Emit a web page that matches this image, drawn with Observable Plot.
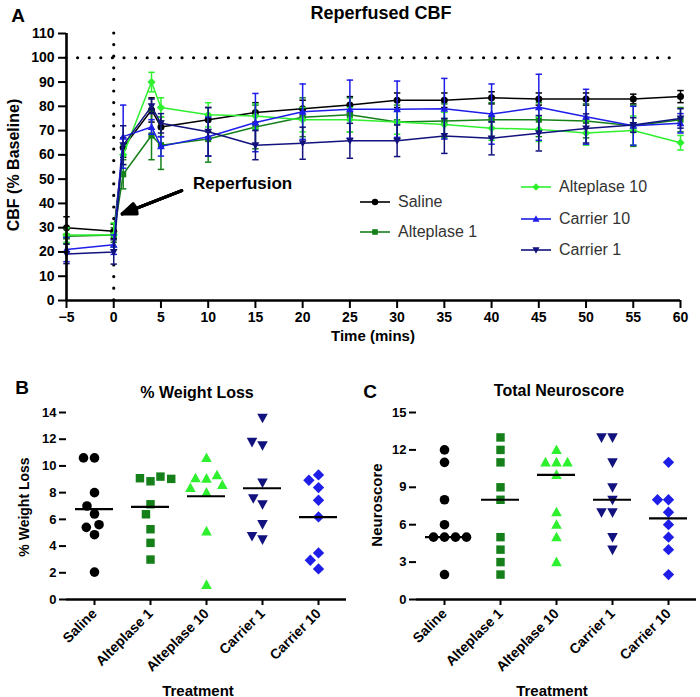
<!DOCTYPE html>
<html><head><meta charset="utf-8">
<script src="https://cdn.jsdelivr.net/npm/d3@7"></script>
<script src="https://cdn.jsdelivr.net/npm/@observablehq/plot@0.6"></script>
<style>
body{margin:0;background:#fff;}
#wrap{position:relative;width:700px;height:697px;font-family:"Liberation Sans",Arial,sans-serif;color:#000;overflow:hidden;background:#fff;}
.abs{position:absolute;white-space:nowrap;line-height:1;}
.b{font-weight:bold;}
.c{transform:translate(-50%,-50%);}
.rot{transform:translate(-50%,-50%) rotate(-90deg);}
.lg{position:absolute;display:flex;align-items:center;font-size:16px;color:#333;transform:translateY(-50%);white-space:nowrap;}
.lg span{margin-left:8px;}
svg.panel{position:absolute;}
</style></head><body><div id="wrap"></div>
<script>
// ---------- Panel A data: Reperfused CBF (% baseline), mean and SEM ----------
const times = [-5, 0, 1, 4, 5, 10, 15, 20, 25, 30, 35, 40, 45, 50, 55, 60];
const seriesNames = ["Saline", "Alteplase 1", "Alteplase 10", "Carrier 10", "Carrier 1"];
const salineCBF      = [30, 28.5, 63, 78.5, 71.5, 74.5, 77.5, 79, 80.5, 82.5, 82.5, 83.5, 83, 83, 83, 84];
const salineSEM      = [4.5, 3, 4, 5, 4, 5, 4, 3.5, 3.5, 3, 3, 2.5, 2.5, 2.5, 2, 2.5];
const alteplase1CBF  = [26.5, 27, 52, 68, 64, 66.5, 71.5, 75.5, 76.5, 73.5, 74, 74.5, 74.5, 74, 72, 74.5];
const alteplase1SEM  = [3, 3, 6, 10, 10, 9.5, 9, 8, 7, 7, 7, 7, 7, 7, 8.5, 5];
const alteplase10CBF = [27, 27, 60, 90, 79.5, 76.5, 76, 74.5, 74.5, 73.5, 72.5, 71, 70.5, 69, 70, 65];
const alteplase10SEM = [3, 5, 4, 4, 4, 5, 5, 5, 5, 5, 5, 5, 5, 5, 6, 3];
const carrier10CBF   = [21, 23, 67.5, 71.5, 63.5, 67.5, 73.3, 77.8, 78.8, 78.8, 79, 76.8, 79.6, 75.7, 72, 73];
const carrier10SEM   = [5, 4, 13, 3, 4, 8, 12, 11.4, 12, 11.6, 12.5, 12.4, 13.6, 11.3, 8, 4];
const carrier1CBF    = [19.2, 20, 64, 80, 73, 69.5, 64, 64.8, 65.8, 65.8, 67.8, 66.8, 68.9, 70.9, 72.3, 75];
const carrier1SEM    = [4, 5, 8, 3, 4, 10, 6, 6.6, 7.2, 6.5, 7.2, 6.8, 7.3, 6, 3, 4];
const aXTicks = [-5, 0, 5, 10, 15, 20, 25, 30, 35, 40, 45, 50, 55, 60];
const aYTicks = [0, 10, 20, 30, 40, 50, 60, 70, 80, 90, 100, 110];
const aXDomain = [-5, 60];
const aYDomain = [0, 110];
const refLineY = [100];
const refLineX = [0];
const annoText = [{t: 8.4, v: 48.3, label: "Reperfusion"}];
const annoArrow = [{x1: 7.2, y1: 45.3, x2: 0.9, y2: 35.7}];

// ---------- Panel B / C data ----------
const treatments = ["Saline", "Alteplase 1", "Alteplase 10", "Carrier 1", "Carrier 10"];
const wlSaline      = [8.0, 10.6, 10.6, 6.4, 7.0, 4.85, 5.4, 5.6, 2.05];
const wlAlteplase1  = [8.85, 9.08, 9.2, 9.03, 7.13, 6.38, 5.26, 4.24, 2.99];
const wlAlteplase10 = [10.6, 9.05, 9.08, 9.3, 8.0, 8.58, 8.35, 5.1, 1.1];
const wlCarrier1    = [13.6, 11.55, 11.8, 8.76, 7.13, 7.58, 4.5, 4.75, 5.64];
const wlCarrier10   = [9.33, 8.93, 8.38, 7.43, 6.18, 3.49, 2.94, 2.29];
const wlMean        = [6.76, 6.93, 7.73, 8.33, 6.16];
const bYTicks = [0, 2, 4, 6, 8, 10, 12, 14];
const nsSaline      = [12, 11, 8, 6, 5, 5, 5, 5, 2];
const nsAlteplase1  = [13, 12, 11, 9, 8, 5, 4, 3, 2];
const nsAlteplase10 = [12, 11, 11, 11, 10, 7, 6, 5, 3];
const nsCarrier1    = [13, 13, 11, 9, 8, 7, 7, 5, 4];
const nsCarrier10   = [11, 8, 8, 7, 6, 5, 4, 2];
const nsMedian      = [5, 8, 10, 8, 6.5];
const cYTicks = [0, 3, 6, 9, 12, 15];

// ---------- styles ----------
const C = {black: "#000000", dkgreen: "#15801a", green: "#2ef02e", blue: "#1e1ee8", navy: "#12127e"};
const rOf = s => Math.sqrt(s / Math.PI);
const sym = {
  circle: {draw(c, s) { const r = rOf(s); c.moveTo(r, 0); c.arc(0, 0, r, 0, 2 * Math.PI); }},
  square: {draw(c, s) { const r = rOf(s) * 0.88; c.rect(-r, -r, 2 * r, 2 * r); }},
  diamond: {draw(c, s) { const r = rOf(s) * 1.18; c.moveTo(0, -r); c.lineTo(r, 0); c.lineTo(0, r); c.lineTo(-r, 0); c.closePath(); }},
  up: {draw(c, s) { const r = rOf(s); c.moveTo(0, -1.15 * r); c.lineTo(1.1 * r, 0.85 * r); c.lineTo(-1.1 * r, 0.85 * r); c.closePath(); }},
  down: {draw(c, s) { const r = rOf(s); c.moveTo(0, 1.15 * r); c.lineTo(1.1 * r, -0.85 * r); c.lineTo(-1.1 * r, -0.85 * r); c.closePath(); }},
  cap: {draw(c, s) { const w = 3.2; c.moveTo(-w, 0); c.lineTo(w, 0); }}
};
const aSeries = [
  {name: "Saline", mean: salineCBF, sem: salineSEM, color: C.black, symbol: sym.circle},
  {name: "Alteplase 1", mean: alteplase1CBF, sem: alteplase1SEM, color: C.dkgreen, symbol: sym.square},
  {name: "Alteplase 10", mean: alteplase10CBF, sem: alteplase10SEM, color: C.green, symbol: sym.diamond},
  {name: "Carrier 10", mean: carrier10CBF, sem: carrier10SEM, color: C.blue, symbol: sym.up},
  {name: "Carrier 1", mean: carrier1CBF, sem: carrier1SEM, color: C.navy, symbol: sym.down}
];
const catColor = [C.black, C.dkgreen, C.green, C.navy, C.blue];
const catSym = [sym.circle, sym.square, sym.up, sym.down, sym.diamond];

const wrap = document.getElementById("wrap");
function addText(txt, x, y, cls, size) {
  const d = document.createElement("div");
  d.className = "abs " + cls;
  d.style.left = x + "px"; d.style.top = y + "px"; d.style.fontSize = size + "px";
  d.textContent = txt;
  wrap.appendChild(d);
}
const baseStyle = {fontFamily: "'Liberation Sans', Arial, sans-serif", fontWeight: "bold", background: "transparent", overflow: "visible", color: "#000"};

// ---------- Panel A ----------
const aMarks = [
  Plot.ruleY(refLineY, {strokeWidth: 3.2, strokeDasharray: "0,11.6", strokeLinecap: "round"}),
  Plot.ruleX(refLineX, {strokeWidth: 3.2, strokeDasharray: "0,11.6", strokeLinecap: "round"})
];
aSeries.forEach(s => {
  const rows = times.map((t, i) => ({t, v: s.mean[i], lo: s.mean[i] - s.sem[i], hi: s.mean[i] + s.sem[i]}));
  aMarks.push(
    Plot.ruleX(rows, {x: "t", y1: "lo", y2: "hi", stroke: s.color, strokeWidth: 1.5}),
    Plot.dot(rows, {x: "t", y: "hi", symbol: sym.cap, fill: "none", stroke: s.color, strokeWidth: 1.5, r: 3}),
    Plot.dot(rows, {x: "t", y: "lo", symbol: sym.cap, fill: "none", stroke: s.color, strokeWidth: 1.5, r: 3}),
    Plot.line(rows, {x: "t", y: "v", stroke: s.color, strokeWidth: 1.5}),
    Plot.dot(rows, {x: "t", y: "v", symbol: s.symbol, fill: s.color, r: 3.5})
  );
});
aMarks.push(
  Plot.ruleX([aXDomain[0]], {strokeWidth: 2.6}),
  Plot.ruleY([aYDomain[0]], {strokeWidth: 2.6}),
  Plot.axisY({ticks: aYTicks, tickSize: 8, tickPadding: 4, strokeWidth: 2, label: null, fontSize: 14}),
  Plot.axisX({ticks: aXTicks, tickSize: 8, tickPadding: 4, strokeWidth: 2, label: null, fontSize: 14}),
  Plot.text(annoText, {x: "t", y: "v", text: "label", textAnchor: "start", fontSize: 17, fontWeight: "bold"}),
  ...[44, 30, 16, 4].map(a => Plot.arrow(annoArrow, {x1: "x1", y1: "y1", x2: "x2", y2: "y2", headAngle: a, headLength: 7.5, strokeWidth: 3}))
);
const plotA = Plot.plot({
  width: 700, height: 345, marginLeft: 66, marginRight: 20, marginTop: 33, marginBottom: 45,
  x: {domain: aXDomain}, y: {domain: aYDomain},
  style: {...baseStyle, fontSize: "14px"},
  marks: aMarks
});
plotA.classList.add("panel");
plotA.style.left = "0px"; plotA.style.top = "0px";
wrap.appendChild(plotA);

// ---------- Panels B and C ----------
function scatter(groups, stat, yMax, yTicks) {
  const marks = [];
  groups.forEach((vals, i) => {
    const rows = vals.map(v => ({cat: treatments[i], v}));
    marks.push(Plot.dot(rows, Plot.dodgeX({anchor: "middle", padding: 1.4, fx: "cat", y: "v", r: 4.8, symbol: catSym[i], fill: catColor[i]})));
  });
  marks.push(
    Plot.tickY(treatments.map((cat, i) => ({cat, v: stat[i]})), {fx: "cat", y: "v", strokeWidth: 2.2, insetLeft: 9, insetRight: 9}),
    Plot.ruleY([0], {strokeWidth: 2.6}),
    Plot.axisY({ticks: yTicks, tickSize: 7, tickPadding: 3, strokeWidth: 2, label: null, line: true, fontSize: 13}),
    Plot.axisFx({anchor: "bottom", tickRotate: -45, tickSize: 6, strokeWidth: 2, label: null, fontSize: 14})
  );
  return Plot.plot({
    width: 350, height: 337, marginLeft: 64, marginRight: 3, marginTop: 52, marginBottom: 98,
    fx: {domain: treatments, padding: 0}, y: {domain: [0, yMax]},
    style: {...baseStyle, fontSize: "13px"},
    marks
  });
}
const plotB = scatter([wlSaline, wlAlteplase1, wlAlteplase10, wlCarrier1, wlCarrier10], wlMean, 14, bYTicks);
plotB.classList.add("panel"); plotB.style.left = "0px"; plotB.style.top = "360px";
wrap.appendChild(plotB);
const plotC = scatter([nsSaline, nsAlteplase1, nsAlteplase10, nsCarrier1, nsCarrier10], nsMedian, 15, cYTicks);
plotC.classList.add("panel"); plotC.style.left = "350px"; plotC.style.top = "360px";
wrap.appendChild(plotC);

// ---------- titles and labels ----------
addText("A", 18, 15, "b c", 19);
addText("Reperfused CBF", 381, 13, "b c", 18);
addText("CBF (% Baseline)", 14, 165, "b rot", 16);
addText("Time (mins)", 373, 335, "b c", 15);
addText("B", 22, 387, "b c", 19);
addText("% Weight Loss", 197, 393, "b c", 16);
addText("% Weight Loss", 24, 507, "b rot", 14);
addText("Treatment", 198, 690, "b c", 15);
addText("C", 370, 391, "b c", 19);
addText("Total Neuroscore", 559, 391, "b c", 16);
addText("Neuroscore", 376, 505, "b rot", 15);
addText("Treatment", 552, 690, "b c", 15);

// ---------- legend for panel A ----------
const legendPos = [[360, 202], [360, 232], [521, 187], [521, 219], [521, 250]];
aSeries.forEach((s, i) => {
  const d = document.createElement("div");
  d.className = "lg";
  d.style.left = legendPos[i][0] + "px"; d.style.top = legendPos[i][1] + "px";
  const path = d3.symbol().type(s.symbol).size(Math.PI * 3.2 * 3.2)();
  d.innerHTML = `<svg width="30" height="12"><line x1="0" y1="6" x2="30" y2="6" stroke="${s.color}" stroke-width="1.6"/><path transform="translate(15,6)" d="${path}" fill="${s.color}"/></svg><span>${s.name}</span>`;
  wrap.appendChild(d);
});
</script></body></html>
